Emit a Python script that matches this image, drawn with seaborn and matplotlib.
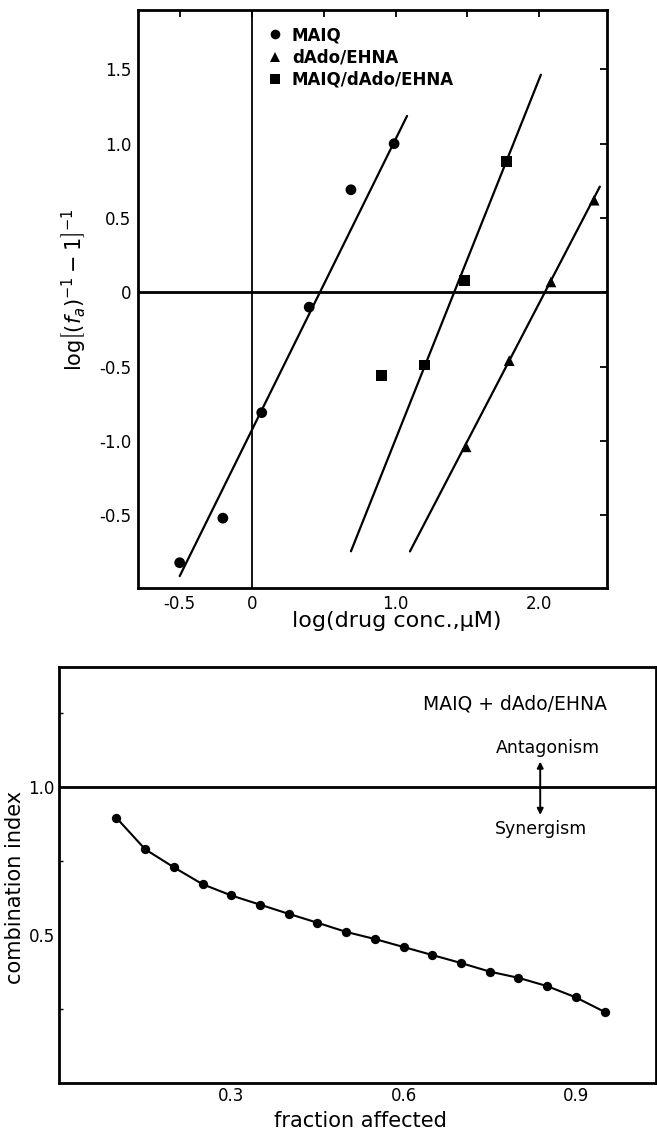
import numpy as np
import pandas as pd
import matplotlib
matplotlib.use("Agg")
import matplotlib.pyplot as plt
import seaborn as sns

# ---------------- data ----------------
series_names = ["MAIQ", "dAdo/EHNA", "MAIQ/dAdo/EHNA"]
maiq_x = [-0.50, -0.20, 0.07, 0.40, 0.69, 0.99]
maiq_y = [-1.82, -1.52, -0.81, -0.10, 0.69, 1.00]
dado_x = [1.49, 1.79, 2.08, 2.38]
dado_y = [-1.04, -0.46, 0.07, 0.62]
combo_x = [0.90, 1.20, 1.48, 1.77]
combo_y = [-0.56, -0.49, 0.08, 0.88]

fit_slope = [1.96, 1.86, 2.43]
fit_intercept = [-0.93, -3.79, -3.42]
fit_xmin = [-0.50, 1.10, 0.69]
fit_xmax = [1.08, 2.42, 2.01]

top_xticks = [-0.5, 0.0, 0.5, 1.0, 1.5, 2.0]
top_xticklabels = ["-0.5", "0", "", "1.0", "", "2.0"]
top_yticks = [-1.5, -1.0, -0.5, 0.0, 0.5, 1.0, 1.5]
top_yticklabels = ["-0.5", "-1.0", "-0.5", "0", "0.5", "1.0", "1.5"]

fa = [0.10, 0.15, 0.20, 0.25, 0.30, 0.35, 0.40, 0.45, 0.50,
      0.55, 0.60, 0.65, 0.70, 0.75, 0.80, 0.85, 0.90, 0.95]
ci = [0.895, 0.789, 0.728, 0.671, 0.633, 0.602, 0.571, 0.541, 0.510,
      0.486, 0.459, 0.432, 0.405, 0.376, 0.355, 0.327, 0.289, 0.240]

bot_xticks = [0.1, 0.2, 0.3, 0.4, 0.5, 0.6, 0.7, 0.8, 0.9, 1.0]
bot_xticklabels = ["", "", "0.3", "", "", "0.6", "", "", "0.9", ""]
bot_yticks = [0.5, 1.0]
bot_yticklabels = ["0.5", "1.0"]

# ---------------- style ----------------
sns.set_theme(style="white")
plt.rcParams["font.family"] = ["DejaVu Sans"]
plt.rcParams.update({
    "xtick.direction": "in", "ytick.direction": "in",
    "axes.edgecolor": "black", "axes.linewidth": 2.0,
    "xtick.color": "black", "ytick.color": "black",
    "text.color": "black", "axes.labelcolor": "black",
    "mathtext.fontset": "dejavusans",
})

fig = plt.figure(figsize=(6.57, 11.34), dpi=100)
ax1 = fig.add_axes([0.210, 0.4815, 0.714, 0.5097])
ax2 = fig.add_axes([0.0898, 0.045, 0.909, 0.367])

# ---------------- top panel ----------------
pts = pd.DataFrame({
    "x": maiq_x + dado_x + combo_x,
    "y": maiq_y + dado_y + combo_y,
    "series": [series_names[0]] * len(maiq_x) + [series_names[1]] * len(dado_x)
              + [series_names[2]] * len(combo_x),
})

rows = []
for name, m, b, x0, x1 in zip(series_names, fit_slope, fit_intercept, fit_xmin, fit_xmax):
    for xv in (x0, x1):
        rows.append({"x": xv, "y": m * xv + b, "series": name})
lines = pd.DataFrame(rows)

ax1.axhline(0, color="black", lw=2.0, zorder=1)
ax1.axvline(0, color="black", lw=1.3, zorder=1)

sns.lineplot(data=lines, x="x", y="y", units="series", estimator=None,
             color="black", lw=1.6, ax=ax1, legend=False, sort=False)
sns.scatterplot(data=pts, x="x", y="y", hue="series", style="series",
                hue_order=series_names, style_order=series_names,
                palette=["black"] * 3, markers=["o", "^", "s"],
                s=60, edgecolor="black", linewidth=0, ax=ax1, zorder=3)

ax1.set_xlim(-0.79, 2.47)
ax1.set_ylim(-1.99, 1.90)
ax1.set_xticks(top_xticks)
ax1.set_xticklabels(top_xticklabels, fontsize=12)
ax1.set_yticks(top_yticks)
ax1.set_yticklabels(top_yticklabels, fontsize=12)
ax1.tick_params(axis="both", which="both", direction="in", length=5, width=1.3,
                top=True, right=True, pad=5)
ax1.set_xlabel("log(drug conc.,\u03bcM)", fontsize=16)
ax1.xaxis.set_label_coords(0.552, -0.040)
ax1.set_ylabel(r"$\mathrm{log}\left[(f_a)^{-1}-1\right]^{-1}$", fontsize=15)
ax1.yaxis.set_label_coords(-0.107, 0.516)

handles, labels = ax1.get_legend_handles_labels()
leg = ax1.legend(handles, labels, loc="upper left", bbox_to_anchor=(0.232, 0.992),
                 frameon=False, fontsize=12, handletextpad=0.0, labelspacing=0.25,
                 borderpad=0.2, markerscale=0.9)
for t in leg.get_texts():
    t.set_fontweight("bold")

# ---------------- bottom panel ----------------
cidf = pd.DataFrame({"fa": fa, "ci": ci})
ax2.axhline(1.0, color="black", lw=2.0, zorder=1)
sns.lineplot(data=cidf, x="fa", y="ci", color="black", lw=1.5, ax=ax2)
sns.scatterplot(data=cidf, x="fa", y="ci", color="black", s=45,
                edgecolor="black", linewidth=0, ax=ax2, zorder=3)

ax2.set_xlim(0.0, 1.04)
ax2.set_ylim(0.0, 1.405)
ax2.set_xticks(bot_xticks)
ax2.set_xticklabels(bot_xticklabels, fontsize=12)
ax2.set_yticks(bot_yticks)
ax2.set_yticklabels(bot_yticklabels, fontsize=12)
ax2.set_yticks([0.25, 0.75, 1.25], minor=True)
ax2.tick_params(axis="both", which="major", direction="in", length=5, width=1.3, pad=3)
ax2.tick_params(axis="y", which="minor", direction="in", length=3, width=1.0, left=True)
ax2.set_xlabel("fraction affected", fontsize=15)
ax2.xaxis.set_label_coords(0.504, -0.068)
ax2.set_ylabel("combination index", fontsize=15)
ax2.yaxis.set_label_coords(-0.057, 0.47)

ax2.text(0.634, 1.28, "MAIQ + dAdo/EHNA", fontsize=13.5, ha="left", va="center")
ax2.text(0.852, 1.13, "Antagonism", fontsize=12.5, ha="center", va="center")
ax2.text(0.84, 0.857, "Synergism", fontsize=12.5, ha="center", va="center")
ax2.annotate("", xy=(0.838, 1.085), xytext=(0.838, 0.905),
             arrowprops=dict(arrowstyle="<|-|>", color="black", lw=1.4,
                             mutation_scale=9, shrinkA=0, shrinkB=0))

fig.savefig("out.png", dpi=100)
